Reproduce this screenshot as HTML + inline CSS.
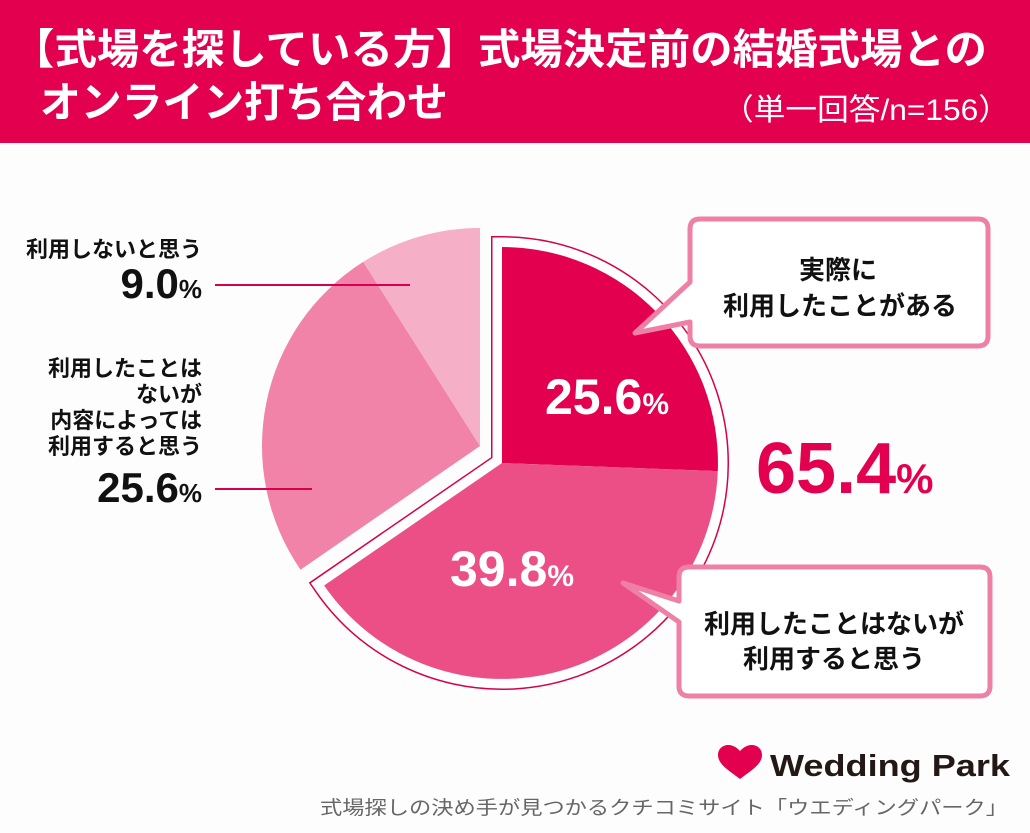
<!DOCTYPE html>
<html><head><meta charset="utf-8"><style>
html,body{margin:0;padding:0;background:#fdfdfd;}
body{width:1030px;height:833px;overflow:hidden;position:relative;font-family:"Liberation Sans","Noto Sans CJK JP",sans-serif;}
</style></head><body>
<svg width="1030" height="833" viewBox="0 0 1030 833" xmlns="http://www.w3.org/2000/svg" style="position:absolute;left:0;top:0">
<rect x="0" y="0" width="1030" height="143" fill="#e3004f"/>
<g font-family="'Liberation Sans','Noto Sans CJK JP',sans-serif" fill="#fff" font-weight="bold">
<text x="12" y="64" font-size="42" textLength="975" lengthAdjust="spacingAndGlyphs">【式場を探している方】式場決定前の結婚式場との</text>
<text x="40" y="117" font-size="42" textLength="408" lengthAdjust="spacingAndGlyphs">オンライン打ち合わせ</text>
</g>
<text x="722" y="120" font-size="30" fill="#fff" font-family="'Liberation Sans','Noto Sans CJK JP',sans-serif" textLength="288" lengthAdjust="spacingAndGlyphs">（単一回答/n=156）</text>

<path d="M480,446 L300.5,569.7 A218,218 0 0 1 363.2,261.9 Z" fill="#f083a7"/>
<path d="M480,446 L363.2,261.9 A218,218 0 0 1 480,228 Z" fill="#f5afc6"/>
<path d="M502,463 L502,247 A216,216 0 1 1 324.1,585.5 Z" fill="#fff" stroke="#d6004c" stroke-width="22" stroke-linejoin="miter"/>
<path d="M502,463 L502,247 A216,216 0 1 1 324.1,585.5 Z" fill="#fff" stroke="#fff" stroke-width="19" stroke-linejoin="miter"/>
<path d="M502,463 L502,247 A216,216 0 0 1 717.8,471.1 Z" fill="#e3004f"/>
<path d="M502,463 L717.8,471.1 A216,216 0 0 1 324.1,585.5 Z" fill="#ec4f85"/>

<g font-family="'Liberation Sans',sans-serif" font-weight="bold" fill="#fff">
<text x="545" y="414" font-size="50">25.6<tspan font-size="30">%</tspan></text>
<text x="450" y="586" font-size="50">39.8<tspan font-size="30">%</tspan></text>
</g>

<line x1="215" y1="285" x2="410" y2="285" stroke="#d6004c" stroke-width="2"/>
<line x1="215" y1="489" x2="312" y2="489" stroke="#d6004c" stroke-width="2"/>
<g font-family="'Liberation Sans','Noto Sans CJK JP',sans-serif" font-weight="bold" fill="#111" text-anchor="end">
<text x="202" y="257" font-size="22">利用しないと思う</text>
<text x="202" y="298" font-size="42">9.0<tspan font-size="26">%</tspan></text>
<text x="202" y="376" font-size="22">利用したことは</text>
<text x="202" y="402" font-size="22">ないが</text>
<text x="202" y="428" font-size="22">内容によっては</text>
<text x="202" y="454" font-size="22">利用すると思う</text>
<text x="202" y="502" font-size="42">25.6<tspan font-size="26">%</tspan></text>
</g>

<text x="756" y="493" font-size="72" font-weight="bold" fill="#e3004f" font-family="'Liberation Sans',sans-serif">65.4<tspan font-size="42">%</tspan></text>

<path d="M700,219 H978 Q988,219 988,229 V336 Q988,346 978,346 H700 Q690,346 690,336 V322 L635,333 L690,282 V229 Q690,219 700,219 Z" fill="#fff" stroke="#ee7fa5" stroke-width="5" stroke-linejoin="round"/>
<g font-family="'Liberation Sans','Noto Sans CJK JP',sans-serif" font-weight="bold" fill="#111" text-anchor="middle" font-size="26">
<text x="838" y="279">実際に</text>
<text x="840" y="315">利用したことがある</text>
</g>
<path d="M689,567 H980 Q990,567 990,577 V686 Q990,696 980,696 H689 Q679,696 679,686 V622 L623,583 L679,601 V577 Q679,567 689,567 Z" fill="#fff" stroke="#ee7fa5" stroke-width="5" stroke-linejoin="round"/>
<g font-family="'Liberation Sans','Noto Sans CJK JP',sans-serif" font-weight="bold" fill="#111" text-anchor="middle" font-size="26">
<text x="834" y="633">利用したことはないが</text>
<text x="834" y="668">利用すると思う</text>
</g>

<path d="M740,779 C728,770 718,764 718,755 C718,747 726,743 733,746 C736,747 738,749 740,751 C742,749 744,747 747,746 C754,743 762,747 762,755 C762,764 752,770 740,779 Z" fill="#e3004f"/>
<text x="770" y="776" font-size="31" font-weight="bold" fill="#231815" font-family="'Liberation Sans',sans-serif" textLength="240" lengthAdjust="spacingAndGlyphs">Wedding Park</text>
<text x="1008" y="814" font-size="19" fill="#666" text-anchor="end" font-family="'Liberation Sans','Noto Sans CJK JP',sans-serif" textLength="688" lengthAdjust="spacingAndGlyphs">式場探しの決め手が見つかるクチコミサイト「ウエディングパーク」</text>
</svg>
</body></html>
